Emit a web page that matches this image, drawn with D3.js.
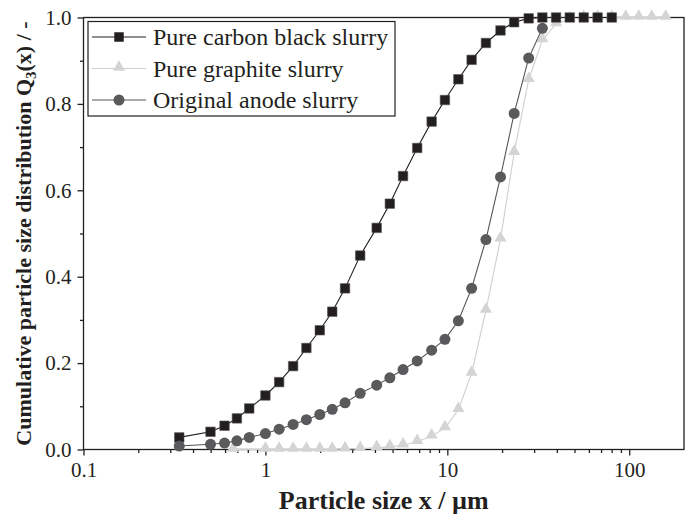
<!DOCTYPE html>
<meta charset="utf-8">

<style>
  body { margin: 0; background: white; }
  text { font-family: "Liberation Serif", "Times New Roman", serif; fill: #231f20; }
  .axis path { display: none; }
  .axis line { stroke: #231f20; stroke-width: 1.3; }
  .frame { fill: none; stroke: #231f20; stroke-width: 1.3; }
</style>

<body>
  <script src="https://d3js.org/d3.v7.min.js"></script>

  <script>
    // particle size bins (µm) and cumulative Q3 values
    var carbonX = [0.336, 0.499, 0.596, 0.697, 0.815, 1.0, 1.19, 1.42, 1.68, 1.99, 2.33, 2.74, 3.32, 4.09, 4.83, 5.71, 6.83, 8.2, 9.7, 11.5, 13.6, 16.3, 19.6, 23.3, 28.0, 33.3, 39.6, 47.1, 56.2, 67.0, 80.2];
    var carbonY = [0.028, 0.041, 0.055, 0.072, 0.095, 0.125, 0.156, 0.193, 0.235, 0.276, 0.319, 0.373, 0.449, 0.513, 0.569, 0.633, 0.698, 0.759, 0.809, 0.857, 0.902, 0.941, 0.970, 0.989, 0.998, 1.0, 1.0, 1.0, 1.0, 1.0, 1.0];

    var graphiteX = [0.664, 1.0, 1.19, 1.42, 1.68, 1.99, 2.33, 2.74, 3.32, 4.09, 4.83, 5.71, 6.83, 8.2, 9.7, 11.5, 13.6, 16.3, 19.6, 23.3, 28.0, 33.3, 39.6, 47.1, 56.2, 67.0, 80.2, 95.7, 112.8, 132.9, 158.6];
    var graphiteY = [0.0, 0.0, 0.0, 0.0, 0.0, 0.0, 0.0, 0.001, 0.002, 0.004, 0.006, 0.010, 0.018, 0.031, 0.050, 0.092, 0.176, 0.322, 0.487, 0.687, 0.856, 0.948, 0.985, 0.996, 1.0, 1.0, 1.0, 1.0, 1.0, 1.0, 1.0];

    var anodeX = [0.336, 0.499, 0.596, 0.697, 0.815, 1.0, 1.19, 1.42, 1.68, 1.99, 2.33, 2.74, 3.32, 4.09, 4.83, 5.71, 6.83, 8.2, 9.7, 11.5, 13.6, 16.3, 19.6, 23.3, 28.0, 33.3];
    var anodeY = [0.008, 0.012, 0.015, 0.020, 0.028, 0.037, 0.047, 0.058, 0.069, 0.081, 0.093, 0.108, 0.130, 0.149, 0.166, 0.185, 0.205, 0.230, 0.255, 0.298, 0.373, 0.486, 0.631, 0.778, 0.906, 0.975];

    var seriesNames = ["Pure carbon black slurry", "Pure graphite slurry", "Original anode slurry"];

    var xMajorTicks = [0.1, 1, 10, 100];
    var xTickLabels = ["0.1", "1", "10", "100"];
    var xMinorTicks = [0.2, 0.3, 0.4, 0.5, 0.6, 0.7, 0.8, 0.9, 2, 3, 4, 5, 6, 7, 8, 9, 20, 30, 40, 50, 60, 70, 80, 90];
    var yMajorTicks = [0, 0.2, 0.4, 0.6, 0.8, 1.0];
    var yMinorTicks = [0.1, 0.3, 0.5, 0.7, 0.9];

    var width = 692,
        height = 519;

    var svg = d3.select("body").append("svg")
                .attr("width", width)
                .attr("height", height);

    var x = d3.scaleLog().domain([0.1, 200]).range([83.5, 684]);
    var y = d3.scaleLinear().domain([0, 1]).range([449.5, 17.5]);

    // minor ticks first, then major with labels
    svg.append("g")
       .attr("class", "axis")
       .attr("transform", "translate(0," + y(0) + ")")
       .call(d3.axisBottom(x).tickValues(xMinorTicks).tickSize(3.5).tickFormat(""));

    var xAxis = svg.append("g")
       .attr("class", "axis")
       .attr("transform", "translate(0," + y(0) + ")")
       .call(d3.axisBottom(x).tickValues(xMajorTicks).tickSize(6).tickPadding(7)
               .tickFormat(function(d, i) { return xTickLabels[i]; }));
    xAxis.selectAll("text").style("font-size", "21px");

    svg.append("g")
       .attr("class", "axis")
       .attr("transform", "translate(" + x(0.1) + ",0)")
       .call(d3.axisLeft(y).tickValues(yMinorTicks).tickSize(3.5).tickFormat(""));

    var yAxis = svg.append("g")
       .attr("class", "axis")
       .attr("transform", "translate(" + x(0.1) + ",0)")
       .call(d3.axisLeft(y).tickValues(yMajorTicks).tickSize(6).tickPadding(6)
               .tickFormat(d3.format(".1f")));
    yAxis.selectAll("text").style("font-size", "21px");

    svg.append("rect")
       .attr("class", "frame")
       .attr("x", x(0.1))
       .attr("y", y(1))
       .attr("width", x(200) - x(0.1))
       .attr("height", y(0) - y(1));

    // axis titles
    svg.append("text")
       .attr("x", (x(0.1) + x(200)) / 2)
       .attr("y", 509)
       .attr("text-anchor", "middle")
       .style("font-size", "26px")
       .style("font-weight", "bold")
       .text("Particle size x / µm");

    var yTitle = svg.append("text")
       .attr("transform", "translate(31," + ((y(0) + y(1)) / 2) + ") rotate(-90)")
       .attr("text-anchor", "middle")
       .style("font-size", "22px")
       .style("font-weight", "bold");
    yTitle.append("tspan").text("Cumulative particle size distribution Q");
    yTitle.append("tspan").attr("dy", 5).style("font-size", "15px").text("3");
    yTitle.append("tspan").attr("dy", -5).text("(x) / -");

    var line = d3.line()
                 .x(function(d) { return x(d[0]); })
                 .y(function(d) { return y(d[1]); });

    var square = d3.symbol().type(d3.symbolSquare).size(90);
    var triangle = d3.symbol().type(d3.symbolTriangle).size(64);
    var circle = d3.symbol().type(d3.symbolCircle).size(95);

    var series = [
      { xs: graphiteX, ys: graphiteY, line: "#cfcfcf", fill: "#d4d4d4", sym: triangle, dy: 1.2 },
      { xs: carbonX, ys: carbonY, line: "#231f20", fill: "#231f20", sym: square, dy: 0 },
      { xs: anodeX, ys: anodeY, line: "#555555", fill: "#5a5a5c", sym: circle, dy: 0 }
    ];

    series.forEach(function(s) {
      var pts = s.xs.map(function(v, i) { return [v, s.ys[i]]; });
      svg.append("path")
         .datum(pts)
         .attr("d", line)
         .attr("fill", "none")
         .attr("stroke", s.line)
         .attr("stroke-width", 1.1);
      svg.selectAll(null)
         .data(pts)
         .enter()
         .append("path")
         .attr("d", s.sym)
         .attr("transform", function(d) { return "translate(" + x(d[0]) + "," + (y(d[1]) - s.dy) + ")"; })
         .attr("fill", s.fill)
         .attr("stroke", s.fill === "#231f20" ? "#555" : "none")
         .attr("stroke-width", 0.6);
    });

    // legend
    var legend = svg.append("g");
    legend.append("rect")
          .attr("x", 88)
          .attr("y", 21.5)
          .attr("width", 307)
          .attr("height", 94.5)
          .attr("fill", "white")
          .attr("stroke", "#231f20")
          .attr("stroke-width", 1.2);

    var legendRows = [series[1], series[0], series[2]];
    legendRows.forEach(function(s, i) {
      var ly = 37 + i * 31.5;
      legend.append("line")
            .attr("x1", 92).attr("x2", 146)
            .attr("y1", ly).attr("y2", ly)
            .attr("stroke", s.line)
            .attr("stroke-width", 1.1);
      legend.append("path")
            .attr("d", s.sym)
            .attr("transform", "translate(119," + (ly - s.dy) + ")")
            .attr("fill", s.fill);
      legend.append("text")
            .attr("x", 153)
            .attr("y", ly + 8)
            .style("font-size", "24px")
            .text(seriesNames[i]);
    });
  </script>
</body>
